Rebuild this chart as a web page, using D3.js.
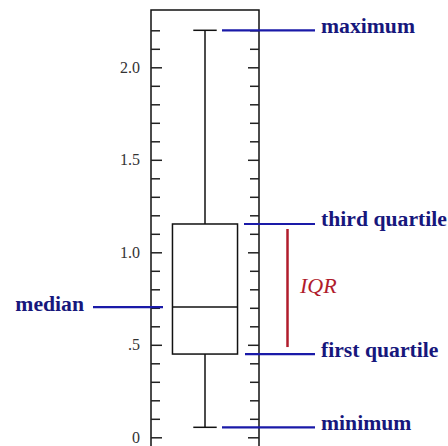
<!DOCTYPE html>
<html>
<head>
<meta charset="utf-8"/>
<script src="https://cdnjs.cloudflare.com/ajax/libs/d3/7.8.5/d3.min.js"></script>
<style>
  body { margin: 0; background: #fff; }
</style>
</head>
<body>
<script>
const svgW = 448, svgH = 446;

// box summary
const category = ['sample'];
const minimum = 0.054;
const firstQuartile = 0.45;
const median = 0.704;
const thirdQuartile = 1.153;
const maximum = 2.2;

// axis ticks
const majorTicks = [0, 0.5, 1, 1.5, 2];
const majorLabels = ['0', '.5', '1.0', '1.5', '2.0'];
const minorTicks = [0.1, 0.2, 0.3, 0.4, 0.6, 0.7, 0.8, 0.9, 1.1, 1.2, 1.3, 1.4, 1.6, 1.7, 1.8, 1.9, 2.1, 2.2];

// annotations
const labelNames = ['maximum', 'third quartile', 'first quartile', 'minimum'];
const labelValues = [maximum, thirdQuartile, firstQuartile, minimum];

const svg = d3.select('body').append('svg')
  .attr('width', svgW)
  .attr('height', svgH);

const frameL = 151, frameR = 259, frameT = 10;
const y = d3.scaleLinear().domain([0, 2]).range([437.3, 67.3]);
const x = d3.scaleBand().domain(category).range([frameL, frameR]).paddingInner(0).paddingOuter(0.33);

const navy = '#17177c', blue = '#1a1aa8', red = '#b01c2c';
const serif = '"Liberation Serif", "Times New Roman", serif';

// frame (left, top, right)
svg.append('path')
  .attr('d', `M${frameL},${svgH + 5}V${frameT}H${frameR}V${svgH + 5}`)
  .attr('fill', 'none')
  .attr('stroke', '#111')
  .attr('stroke-width', 1.5);

// ticks point inward on both sides
const leftMajor = d3.axisLeft(y).tickValues(majorTicks)
  .tickFormat((d, i) => majorLabels[i])
  .tickSizeInner(-11).tickSizeOuter(0).tickPadding(11);
const leftMinor = d3.axisLeft(y).tickValues(minorTicks)
  .tickFormat('').tickSizeInner(-9).tickSizeOuter(0);
const rightMajor = d3.axisRight(y).tickValues(majorTicks)
  .tickFormat('').tickSizeInner(-11).tickSizeOuter(0);
const rightMinor = d3.axisRight(y).tickValues(minorTicks)
  .tickFormat('').tickSizeInner(-9).tickSizeOuter(0);

[[leftMajor, frameL], [leftMinor, frameL], [rightMajor, frameR], [rightMinor, frameR]].forEach(([ax, px]) => {
  const g = svg.append('g').attr('transform', `translate(${px},0)`).call(ax);
  g.select('.domain').remove();
  g.selectAll('.tick line').attr('stroke', '#222').attr('stroke-width', 1.5);
  g.selectAll('.tick text')
    .attr('font-family', serif)
    .attr('font-size', 16)
    .attr('fill', '#333');
});

// box plot
const cx = x('sample') + x.bandwidth() / 2;
const capW = x.bandwidth() * 0.36;
const box = svg.append('g').attr('stroke', '#111').attr('stroke-width', 1.5).attr('fill', 'none');
box.append('line').attr('x1', cx).attr('x2', cx).attr('y1', y(thirdQuartile)).attr('y2', y(maximum));
box.append('line').attr('x1', cx).attr('x2', cx).attr('y1', y(firstQuartile)).attr('y2', y(minimum));
[minimum, maximum].forEach(v => {
  box.append('line').attr('x1', cx - capW / 2).attr('x2', cx + capW / 2).attr('y1', y(v)).attr('y2', y(v));
});
box.append('rect')
  .attr('x', x('sample')).attr('width', x.bandwidth())
  .attr('y', y(thirdQuartile)).attr('height', y(firstQuartile) - y(thirdQuartile))
  .attr('fill', '#fff');
box.append('line').attr('x1', x('sample')).attr('x2', x('sample') + x.bandwidth())
  .attr('y1', y(median)).attr('y2', y(median));

// right annotations
const lineStarts = [222, 244, 245, 222];
labelNames.forEach((name, i) => {
  const yy = y(labelValues[i]);
  svg.append('line')
    .attr('x1', lineStarts[i]).attr('x2', 315)
    .attr('y1', yy).attr('y2', yy)
    .attr('stroke', blue).attr('stroke-width', 2.2);
  svg.append('text')
    .attr('x', 321).attr('y', yy + 2.5)
    .attr('font-family', serif)
    .attr('font-weight', 'bold')
    .attr('font-size', 21.7)
    .attr('fill', navy)
    .text(name);
});

// median annotation
svg.append('line')
  .attr('x1', 93).attr('x2', 163)
  .attr('y1', y(median)).attr('y2', y(median))
  .attr('stroke', blue).attr('stroke-width', 2.2);
svg.append('text')
  .attr('x', 84).attr('y', y(median) + 4)
  .attr('text-anchor', 'end')
  .attr('font-family', serif)
  .attr('font-weight', 'bold')
  .attr('font-size', 21.7)
  .attr('fill', navy)
  .text('median');

// IQR bracket
svg.append('line')
  .attr('x1', 287.5).attr('x2', 287.5)
  .attr('y1', y(thirdQuartile) + 5).attr('y2', y(firstQuartile) - 7)
  .attr('stroke', red).attr('stroke-width', 2.5);
svg.append('text')
  .attr('x', 300).attr('y', 293)
  .attr('font-family', serif)
  .attr('font-style', 'italic')
  .attr('font-size', 22)
  .attr('fill', red)
  .text('IQR');
</script>
</body>
</html>
